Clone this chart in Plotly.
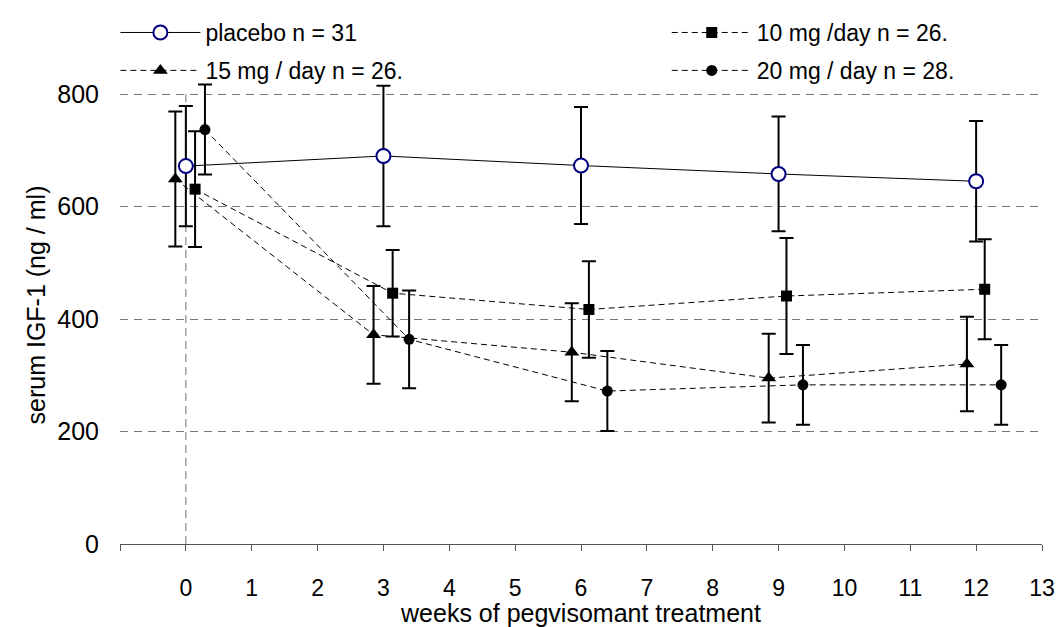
import plotly.graph_objects as go

# ---- data ----
placebo_x = [0, 3, 6, 9, 12]
placebo_y = [672, 690, 673, 658, 645]
placebo_err = [107, 125, 104, 102, 107]

mg10_x = [0.14, 3.14, 6.12, 9.12, 12.13]
mg10_y = [631, 446, 417, 441, 453]
mg10_err = [103, 77, 86, 103, 89]

mg15_x = [-0.16, 2.85, 5.86, 8.85, 11.86]
mg15_y = [649, 372, 341, 295, 320]
mg15_err = [120, 87, 87, 79, 84]

mg20_x = [0.29, 3.39, 6.40, 9.37, 12.38]
mg20_y = [737, 364, 272, 283, 283]
mg20_err = [80, 87, 71, 71, 71]

x_ticks = list(range(-1, 14))
x_ticktext = [""] + [str(v) for v in range(0, 14)]
y_ticks = [0, 200, 400, 600, 800]

FONT = "Arial, Liberation Sans, sans-serif"

def err(vals):
    return dict(type="data", array=vals, visible=True, color="black", thickness=2, width=7)

fig = go.Figure()
fig.add_trace(go.Scatter(
    x=placebo_x, y=placebo_y, name="placebo n = 31", mode="lines+markers",
    line=dict(color="black", width=1),
    marker=dict(symbol="circle", size=14, color="white", line=dict(color="#000080", width=2)),
    error_y=err(placebo_err), legend="legend", legendgroup="a", cliponaxis=False))
fig.add_trace(go.Scatter(
    x=mg10_x, y=mg10_y, name="10 mg /day n = 26.", mode="lines+markers",
    line=dict(color="black", width=1, dash="6px,4px"),
    marker=dict(symbol="square", size=11, color="black"),
    error_y=err(mg10_err), legend="legend2", legendgroup="b", cliponaxis=False))
fig.add_trace(go.Scatter(
    x=mg15_x, y=mg15_y, name="15 mg / day n = 26.", mode="lines+markers",
    line=dict(color="black", width=1, dash="6px,4px"),
    marker=dict(symbol="triangle-up", size=13, color="black"),
    error_y=err(mg15_err), legend="legend", legendgroup="c", cliponaxis=False))
fig.add_trace(go.Scatter(
    x=mg20_x, y=mg20_y, name="20 mg / day n = 28.", mode="lines+markers",
    line=dict(color="black", width=1, dash="6px,4px"),
    marker=dict(symbol="circle", size=11, color="black"),
    error_y=err(mg20_err), legend="legend2", legendgroup="d", cliponaxis=False))

# vertical dashed line at week 0 (value-axis crossing)
fig.add_shape(type="line", x0=0, x1=0, y0=0, y1=800, xref="x", yref="y",
              line=dict(color="#707070", width=1, dash="8px,5px"), layer="below")

legend_common = dict(font=dict(family=FONT, size=23, color="black"),
                     bgcolor="rgba(0,0,0,0)", borderwidth=0, itemwidth=80,
                     tracegroupgap=5, orientation="v", xanchor="left", yanchor="top",
                     traceorder="grouped")

fig.update_layout(
    width=1060, height=627,
    margin=dict(l=120, r=18, t=66, b=83, autoexpand=False),
    paper_bgcolor="white", plot_bgcolor="white",
    font=dict(family=FONT, size=24, color="black"),
    showlegend=True,
    legend=dict(x=-0.005, y=1.115, **legend_common),
    legend2=dict(x=0.593, y=1.115, **legend_common),
    xaxis=dict(range=[-1, 13], tickmode="array", tickvals=x_ticks, ticktext=x_ticktext,
               showgrid=False, zeroline=False, showline=True, linecolor="#555555", linewidth=1,
               ticks="outside", ticklen=6, tickcolor="#555555", tickwidth=1,
               ticklabelstandoff=17, tickfont=dict(size=23),
               title=dict(text="weeks of pegvisomant treatment", font=dict(size=25), standoff=6),
               automargin=False),
    yaxis=dict(range=[0, 850], tickmode="array", tickvals=y_ticks,
               showgrid=True, gridcolor="#777777", gridwidth=1, griddash="8px,6px",
               zeroline=False, showline=False, ticks="", ticklabelstandoff=20,
               tickfont=dict(size=25),
               title=dict(text="serum IGF-1 (ng / ml)", font=dict(size=25), standoff=4),
               automargin=False),
)

fig.write_html("out.html")
